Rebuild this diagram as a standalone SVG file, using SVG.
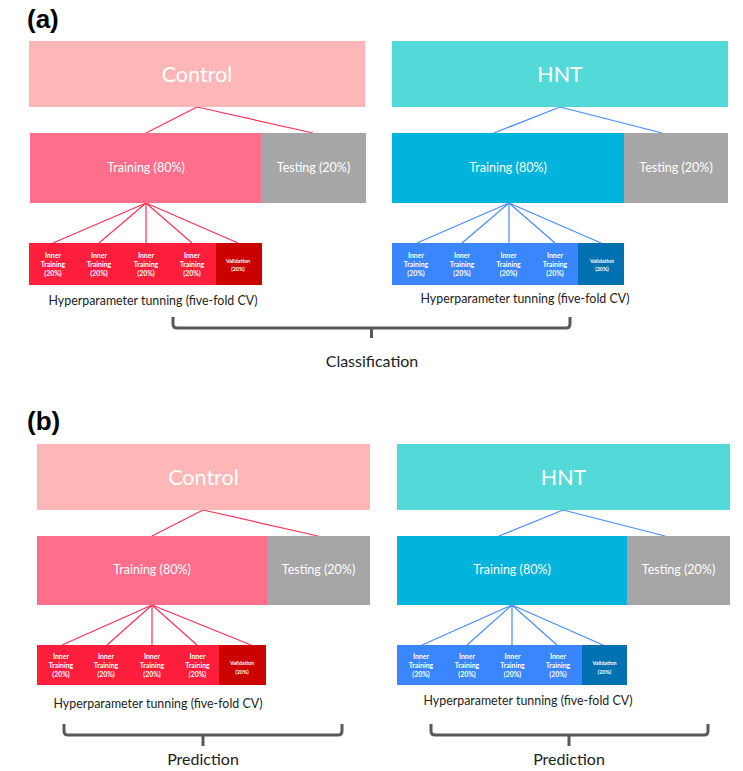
<svg xmlns="http://www.w3.org/2000/svg" width="743" height="771" viewBox="0 0 743 771">
<style>
  text { font-family: Lato, "Open Sans", "Liberation Sans", sans-serif; text-anchor: middle; }
  rect { shape-rendering: crispEdges; }
  .lbl { font-family: "Liberation Sans", Arial, sans-serif; font-weight: bold; font-size: 26px; text-anchor: start; fill: #000; }
  .big { font-size: 21.5px; fill: #fff; }
  .mid { font-size: 12.5px; fill: #fff; }
  .cap { font-size: 12.4px; fill: #222; }
  .res { font-size: 16px; fill: #222; }
  .sm { font-size: 6.9px; font-weight: bold; fill: #fff; }
  .vs { font-size: 5.4px; font-weight: bold; fill: #fff; }
  .ctrl { fill: #FFB6B6; }
  .hnt { fill: #54D9D9; }
  .trr { fill: #FF6F8C; }
  .trb { fill: #00B4DC; }
  .tst { fill: #A6A6A6; }
  .inr { fill: #FF1E3C; }
  .inb { fill: #3A86FF; }
  .vr { fill: #CC0000; }
  .vb { fill: #0071B0; }
  .lr { stroke: #FF3355; stroke-width: 1.2; fill: none; }
  .lb { stroke: #4A8CFF; stroke-width: 1.2; fill: none; }
  .br { stroke: #595959; stroke-width: 3; fill: none; stroke-linecap: butt; }
</style>

<text class="lbl" x="27" y="28">(a)</text>
<text class="lbl" x="27" y="430">(b)</text>

<g id="connectors">
  <!-- (a) left -->
  <path class="lr" d="M197,107 L146,133 M197,107 L313,133"/>
  <path class="lr" d="M146,203 L53,243 M146,203 L99,243 M146,203 L146,243 M146,203 L192,243 M146,203 L238,243"/>
  <!-- (a) right -->
  <path class="lb" d="M560,107 L494,133 M560,107 L662,133"/>
  <path class="lb" d="M509,203 L417,243 M509,203 L462,243 M509,203 L509,243 M509,203 L555,243 M509,203 L601,243"/>
  <!-- (b) left -->
  <path class="lr" d="M203,510 L152,536 M203,510 L318,536"/>
  <path class="lr" d="M152,605 L62,645 M152,605 L107,645 M152,605 L152,645 M152,605 L197,645 M152,605 L251,645"/>
  <!-- (b) right -->
  <path class="lb" d="M563,510 L499,536 M563,510 L665,536"/>
  <path class="lb" d="M512,605 L422,645 M512,605 L467,645 M512,605 L512,645 M512,605 L557,645 M512,605 L603,645"/>
  <!-- braces -->
  <path class="br" d="M173,317 V324 Q173,328 177,328 H566 Q570,328 570,324 V317 M371.5,328 V338"/>
  <path class="br" d="M64,724 V731 Q64,735 68,735 H338 Q342,735 342,731 V724 M203,735 V746"/>
  <path class="br" d="M431,724 V731 Q431,735 435,735 H704 Q708,735 708,731 V724 M569,735 V746"/>
</g>

<!-- (a) left -->
<g id="a-control"><rect class="ctrl" x="29" y="41" width="336" height="66"/><text class="big" x="197" y="82">Control</text></g>
<g id="a-control-training"><rect class="trr" x="30" y="133" width="231" height="70"/><text class="mid" x="146" y="172">Training (80%)</text></g>
<g id="a-control-testing"><rect class="tst" x="261" y="133" width="105" height="70"/><text class="mid" x="313.5" y="172">Testing (20%)</text></g>
<g id="a-control-inner1"><rect class="inr" x="29" y="243" width="47" height="42"/><text class="sm" x="53" y="258">Inner</text><text class="sm" x="53" y="267">Training</text><text class="sm" x="53" y="275.5">(20%)</text></g>
<g id="a-control-inner2"><rect class="inr" x="76" y="243" width="47" height="42"/><text class="sm" x="99" y="258">Inner</text><text class="sm" x="99" y="267">Training</text><text class="sm" x="99" y="275.5">(20%)</text></g>
<g id="a-control-inner3"><rect class="inr" x="122" y="243" width="48" height="42"/><text class="sm" x="146" y="258">Inner</text><text class="sm" x="146" y="267">Training</text><text class="sm" x="146" y="275.5">(20%)</text></g>
<g id="a-control-inner4"><rect class="inr" x="169" y="243" width="47" height="42"/><text class="sm" x="192" y="258">Inner</text><text class="sm" x="192" y="267">Training</text><text class="sm" x="192" y="275.5">(20%)</text></g>
<g id="a-control-validation"><rect class="vr" x="216" y="243" width="46" height="42"/><text class="vs" x="238" y="263">Validation</text><text class="vs" x="238" y="271">(20%)</text></g>
<text class="cap" x="153" y="305">Hyperparameter tunning (five-fold CV)</text>

<!-- (a) right -->
<g id="a-hnt"><rect class="hnt" x="392" y="41" width="336" height="66"/><text class="big" x="560" y="82">HNT</text></g>
<g id="a-hnt-training"><rect class="trb" x="392" y="133" width="232" height="70"/><text class="mid" x="508" y="172">Training (80%)</text></g>
<g id="a-hnt-testing"><rect class="tst" x="624" y="133" width="104" height="70"/><text class="mid" x="676" y="172">Testing (20%)</text></g>
<g id="a-hnt-inner1"><rect class="inb" x="392" y="243" width="47" height="42"/><text class="sm" x="416" y="258">Inner</text><text class="sm" x="416" y="267">Training</text><text class="sm" x="416" y="275.5">(20%)</text></g>
<g id="a-hnt-inner2"><rect class="inb" x="438" y="243" width="48" height="42"/><text class="sm" x="462" y="258">Inner</text><text class="sm" x="462" y="267">Training</text><text class="sm" x="462" y="275.5">(20%)</text></g>
<g id="a-hnt-inner3"><rect class="inb" x="485" y="243" width="47" height="42"/><text class="sm" x="508.5" y="258">Inner</text><text class="sm" x="508.5" y="267">Training</text><text class="sm" x="508.5" y="275.5">(20%)</text></g>
<g id="a-hnt-inner4"><rect class="inb" x="531" y="243" width="47" height="42"/><text class="sm" x="555" y="258">Inner</text><text class="sm" x="555" y="267">Training</text><text class="sm" x="555" y="275.5">(20%)</text></g>
<g id="a-hnt-validation"><rect class="vb" x="578" y="243" width="46" height="42"/><text class="vs" x="602" y="263">Validation</text><text class="vs" x="602" y="271">(20%)</text></g>
<text class="cap" x="525" y="303">Hyperparameter tunning (five-fold CV)</text>

<text class="res" x="372" y="367">Classification</text>

<!-- (b) left -->
<g id="b-control"><rect class="ctrl" x="37" y="444" width="333" height="66"/><text class="big" x="203.5" y="485">Control</text></g>
<g id="b-control-training"><rect class="trr" x="37" y="536" width="230" height="69"/><text class="mid" x="152" y="574">Training (80%)</text></g>
<g id="b-control-testing"><rect class="tst" x="267" y="536" width="103" height="69"/><text class="mid" x="318.5" y="574">Testing (20%)</text></g>
<g id="b-control-inner1"><rect class="inr" x="37" y="645" width="46" height="40"/><text class="sm" x="61" y="659">Inner</text><text class="sm" x="61" y="668">Training</text><text class="sm" x="61" y="677">(20%)</text></g>
<g id="b-control-inner2"><rect class="inr" x="82" y="645" width="47" height="40"/><text class="sm" x="106" y="659">Inner</text><text class="sm" x="106" y="668">Training</text><text class="sm" x="106" y="677">(20%)</text></g>
<g id="b-control-inner3"><rect class="inr" x="128" y="645" width="46" height="40"/><text class="sm" x="152" y="659">Inner</text><text class="sm" x="152" y="668">Training</text><text class="sm" x="152" y="677">(20%)</text></g>
<g id="b-control-inner4"><rect class="inr" x="173" y="645" width="46" height="40"/><text class="sm" x="197.5" y="659">Inner</text><text class="sm" x="197.5" y="668">Training</text><text class="sm" x="197.5" y="677">(20%)</text></g>
<g id="b-control-validation"><rect class="vr" x="219" y="645" width="47" height="40"/><text class="vs" x="242" y="665">Validation</text><text class="vs" x="242" y="674">(20%)</text></g>
<text class="cap" x="158" y="708">Hyperparameter tunning (five-fold CV)</text>
<text class="res" x="203" y="765">Prediction</text>

<!-- (b) right -->
<g id="b-hnt"><rect class="hnt" x="397" y="444" width="333" height="66"/><text class="big" x="563.5" y="485">HNT</text></g>
<g id="b-hnt-training"><rect class="trb" x="397" y="536" width="230" height="69"/><text class="mid" x="512" y="574">Training (80%)</text></g>
<g id="b-hnt-testing"><rect class="tst" x="627" y="536" width="103" height="69"/><text class="mid" x="678.5" y="574">Testing (20%)</text></g>
<g id="b-hnt-inner1"><rect class="inb" x="397" y="645" width="47" height="40"/><text class="sm" x="421" y="659">Inner</text><text class="sm" x="421" y="668">Training</text><text class="sm" x="421" y="677">(20%)</text></g>
<g id="b-hnt-inner2"><rect class="inb" x="443" y="645" width="47" height="40"/><text class="sm" x="467" y="659">Inner</text><text class="sm" x="467" y="668">Training</text><text class="sm" x="467" y="677">(20%)</text></g>
<g id="b-hnt-inner3"><rect class="inb" x="489" y="645" width="48" height="40"/><text class="sm" x="512.5" y="659">Inner</text><text class="sm" x="512.5" y="668">Training</text><text class="sm" x="512.5" y="677">(20%)</text></g>
<g id="b-hnt-inner4"><rect class="inb" x="536" y="645" width="46" height="40"/><text class="sm" x="558" y="659">Inner</text><text class="sm" x="558" y="668">Training</text><text class="sm" x="558" y="677">(20%)</text></g>
<g id="b-hnt-validation"><rect class="vb" x="582" y="645" width="45" height="40"/><text class="vs" x="604.5" y="665">Validation</text><text class="vs" x="604.5" y="674">(20%)</text></g>
<text class="cap" x="528" y="705">Hyperparameter tunning (five-fold CV)</text>
<text class="res" x="569" y="765">Prediction</text>
</svg>
